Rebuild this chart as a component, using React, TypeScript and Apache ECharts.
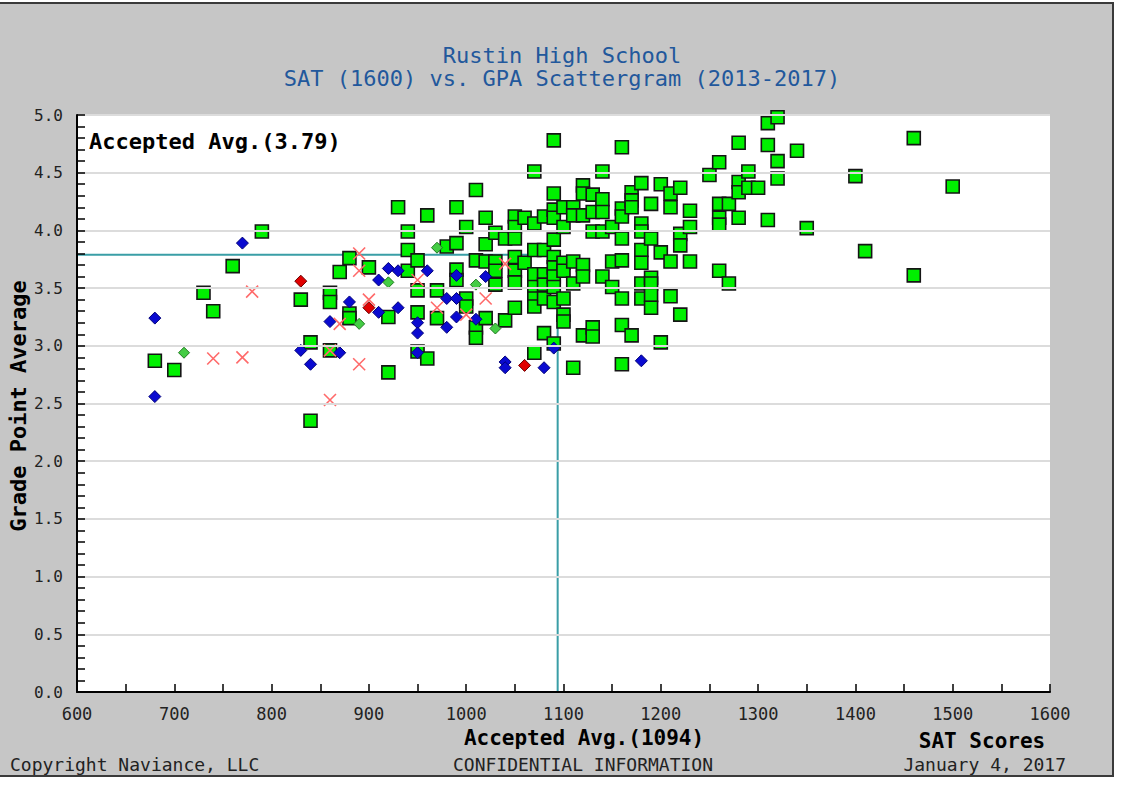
import React, { useEffect, useRef } from "react";
import * as echarts from "echarts";

// SAT (x) vs GPA (y) points
const acceptedPts: number[][] = [
  [680, 2.87], [700, 2.79], [730, 3.46], [740, 3.30], [760, 3.69], [790, 3.99],
  [830, 3.40], [840, 3.03], [840, 2.35],
  [860, 3.46], [860, 3.38], [860, 2.96],
  [870, 3.64], [880, 3.76], [880, 3.28], [880, 3.24],
  [900, 3.68], [920, 3.25], [920, 2.77],
  [930, 4.20], [940, 3.99], [940, 3.83], [940, 3.65],
  [950, 3.74], [950, 3.48], [950, 3.29], [950, 2.95],
  [960, 4.13], [960, 2.89],
  [970, 3.48], [970, 3.24],
  [980, 3.86], [990, 3.89], [990, 4.20], [990, 3.66], [990, 3.57],
  [1000, 4.03], [1000, 3.41], [1000, 3.34],
  [1010, 4.35], [1010, 3.74], [1010, 3.16], [1010, 3.07],
  [1020, 4.11], [1020, 3.88], [1020, 3.73], [1020, 3.24],
  [1030, 3.98], [1030, 3.73], [1030, 3.65], [1030, 3.53],
  [1040, 3.93], [1040, 3.22],
  [1050, 4.12], [1050, 4.03], [1050, 3.93], [1050, 3.77], [1050, 3.65], [1050, 3.55], [1050, 3.33],
  [1060, 4.11], [1060, 3.72],
  [1070, 4.51], [1070, 4.06], [1070, 3.83], [1070, 3.62], [1070, 3.51], [1070, 3.41], [1070, 3.34], [1070, 2.94],
  [1080, 4.12], [1080, 3.83], [1080, 3.62], [1080, 3.53], [1080, 3.41], [1080, 3.11],
  [1090, 4.78], [1090, 4.32], [1090, 4.18], [1090, 4.11], [1090, 3.92], [1090, 3.77], [1090, 3.68],
  [1090, 3.60], [1090, 3.51], [1090, 3.38], [1090, 3.02],
  [1100, 4.20], [1100, 4.03], [1100, 3.72], [1100, 3.65], [1100, 3.41], [1100, 3.27], [1100, 3.21],
  [1110, 4.20], [1110, 4.13], [1110, 3.73], [1110, 3.54], [1110, 2.81],
  [1120, 4.39], [1120, 4.32], [1120, 4.13], [1120, 3.70], [1120, 3.60], [1120, 3.09],
  [1130, 4.31], [1130, 4.16], [1130, 3.99], [1130, 3.16], [1130, 3.08],
  [1140, 4.51], [1140, 4.27], [1140, 4.16], [1140, 3.99], [1140, 3.60],
  [1150, 4.03], [1150, 3.73], [1150, 3.51],
  [1160, 4.72], [1160, 4.19], [1160, 4.12], [1160, 3.93], [1160, 3.74], [1160, 3.41], [1160, 3.18], [1160, 2.84],
  [1170, 4.33], [1170, 4.26], [1170, 4.20], [1170, 3.09],
  [1180, 4.41], [1180, 4.06], [1180, 3.99], [1180, 3.83], [1180, 3.72], [1180, 3.54], [1180, 3.41],
  [1190, 4.23], [1190, 3.93], [1190, 3.59], [1190, 3.54], [1190, 3.44], [1190, 3.33],
  [1200, 4.40], [1200, 3.81], [1200, 3.03],
  [1210, 4.32], [1210, 4.20], [1210, 3.73], [1210, 3.43],
  [1220, 4.37], [1220, 3.97], [1220, 3.87], [1220, 3.27],
  [1230, 4.17], [1230, 4.03], [1230, 3.73],
  [1250, 4.48],
  [1260, 4.59], [1260, 4.23], [1260, 4.11], [1260, 4.05], [1260, 3.65],
  [1270, 4.23], [1270, 3.54],
  [1280, 4.76], [1280, 4.42], [1280, 4.33], [1280, 4.11],
  [1290, 4.51], [1290, 4.37],
  [1300, 4.37],
  [1310, 4.93], [1310, 4.74], [1310, 4.09],
  [1320, 4.98], [1320, 4.60], [1320, 4.45],
  [1340, 4.69], [1350, 4.02],
  [1400, 4.47], [1410, 3.82], [1460, 4.80], [1460, 3.61], [1500, 4.38],
];

const blueDiamondPts: number[][] = [
  [680, 3.24], [680, 2.56], [770, 3.89], [830, 2.96], [840, 2.84], [860, 3.21], [870, 2.94], [880, 3.38],
  [910, 3.57], [910, 3.29], [920, 3.67], [930, 3.65], [930, 3.33], [950, 3.20], [950, 3.11], [950, 2.94],
  [960, 3.65], [980, 3.41], [980, 3.16], [990, 3.61], [990, 3.41], [990, 3.25],
  [1010, 3.23], [1020, 3.60], [1040, 2.86], [1040, 2.81], [1080, 2.81], [1090, 2.98], [1180, 2.87],
];

const redDiamondPts: number[][] = [[830, 3.56], [900, 3.33], [1060, 2.83]];

const greenDiamondPts: number[][] = [
  [710, 2.94], [890, 3.19], [920, 3.55], [970, 3.85], [1010, 3.53], [1030, 3.15],
];

const deniedPts: number[][] = [
  [740, 2.89], [770, 2.90], [780, 3.47], [860, 2.96], [860, 2.53], [870, 3.19],
  [890, 3.80], [890, 3.65], [890, 2.84], [900, 3.40], [950, 3.57], [970, 3.33],
  [1000, 3.27], [1020, 3.41], [1040, 3.71],
];

const avgSat = 1094;
const avgGpa = 3.79;
const satMin = 600;
const satMax = 1600;
const gpaMin = 0;
const gpaMax = 5;

const titleLines = ["Rustin High School", "SAT (1600) vs. GPA Scattergram (2013-2017)"];

const MONO = "'DejaVu Sans Mono', 'Liberation Mono', monospace";

export default function App() {
  const ref = useRef<HTMLDivElement>(null);

  useEffect(() => {
    document.body.style.margin = "0";
    if (!ref.current) return;
    const chart = echarts.init(ref.current, undefined, { renderer: "svg" });

    const option: any = {
      animation: false,
      backgroundColor: "#ffffff",
      grid: {
        left: 77,
        top: 115,
        width: 973,
        height: 577,
        show: true,
        backgroundColor: "#ffffff",
        borderWidth: 0,
      },
      xAxis: {
        type: "value",
        min: satMin,
        max: satMax,
        interval: 100,
        z: 6,
        axisLine: { show: true, onZero: false, lineStyle: { color: "#000", width: 2 } },
        axisTick: { show: true, inside: true, length: 8, lineStyle: { color: "#000", width: 1.5 } },
        minorTick: { show: true, splitNumber: 2, length: 8, lineStyle: { color: "#000", width: 1.5 } },
        splitLine: { show: false },
        axisLabel: {
          color: "#222",
          fontFamily: MONO,
          fontSize: 17,
          margin: 13,
          formatter: (v: number) => String(v),
        },
      },
      yAxis: {
        type: "value",
        min: gpaMin,
        max: gpaMax,
        interval: 0.5,
        z: 6,
        axisLine: { show: true, onZero: false, lineStyle: { color: "#000", width: 2 } },
        axisTick: { show: true, inside: true, length: 8, lineStyle: { color: "#000", width: 1.5 } },
        minorTick: { show: true, splitNumber: 5, length: 8, lineStyle: { color: "#000", width: 1.5 } },
        splitLine: { show: true, lineStyle: { color: "#dcdcdc", width: 2 } },
        axisLabel: {
          color: "#222",
          fontFamily: MONO,
          fontSize: 16,
          margin: 14,
          formatter: (v: number) => v.toFixed(1),
        },
      },
      graphic: [
        {
          type: "rect",
          z: -10,
          silent: true,
          shape: { x: -2, y: 3, width: 1115, height: 773 },
          style: { fill: "#c6c6c6", stroke: "#3a3a3a", lineWidth: 2 },
        },
        {
          type: "text",
          x: 562,
          y: 55,
          style: {
            text: titleLines[0],
            fill: "#22589c",
            font: `22px ${MONO}`,
            textAlign: "center",
            textVerticalAlign: "middle",
          },
        },
        {
          type: "text",
          x: 562,
          y: 78,
          style: {
            text: titleLines[1],
            fill: "#22589c",
            font: `22px ${MONO}`,
            textAlign: "center",
            textVerticalAlign: "middle",
          },
        },
        {
          type: "text",
          x: 89,
          y: 141,
          z: 50,
          style: {
            text: `Accepted Avg.(${avgGpa.toFixed(2)})`,
            fill: "#000",
            font: `bold 22px ${MONO}`,
            textVerticalAlign: "middle",
          },
        },
        {
          type: "text",
          x: 18,
          y: 406,
          rotation: Math.PI / 2,
          style: {
            text: "Grade Point Average",
            fill: "#000",
            font: `bold 22px ${MONO}`,
            textAlign: "center",
            textVerticalAlign: "middle",
          },
        },
        {
          type: "text",
          x: 584,
          y: 738,
          style: {
            text: `Accepted Avg.(${avgSat})`,
            fill: "#000",
            font: `bold 21px ${MONO}`,
            textAlign: "center",
            textVerticalAlign: "middle",
          },
        },
        {
          type: "text",
          x: 982,
          y: 741,
          style: {
            text: "SAT Scores",
            fill: "#000",
            font: `bold 21px ${MONO}`,
            textAlign: "center",
            textVerticalAlign: "middle",
          },
        },
        {
          type: "text",
          x: 10,
          y: 764,
          style: {
            text: "Copyright Naviance, LLC",
            fill: "#222",
            font: `18px ${MONO}`,
            textVerticalAlign: "middle",
          },
        },
        {
          type: "text",
          x: 583,
          y: 764,
          style: {
            text: "CONFIDENTIAL INFORMATION",
            fill: "#222",
            font: `18px ${MONO}`,
            textAlign: "center",
            textVerticalAlign: "middle",
          },
        },
        {
          type: "text",
          x: 1066,
          y: 764,
          style: {
            text: "January 4, 2017",
            fill: "#222",
            font: `18px ${MONO}`,
            textAlign: "right",
            textVerticalAlign: "middle",
          },
        },
      ],
      series: [
        {
          name: "Accepted Avg",
          type: "line",
          data: [[satMin, avgGpa], [avgSat, avgGpa], [avgSat, gpaMin]],
          showSymbol: false,
          symbol: "none",
          lineStyle: { color: "#3a9ea6", width: 2 },
          silent: true,
          z: 2,
        },
        {
          name: "Accepted",
          type: "scatter",
          data: acceptedPts,
          symbol: "rect",
          symbolSize: 13,
          itemStyle: { color: "#00f000", borderColor: "#151515", borderWidth: 1.6, opacity: 1 },
          z: 3,
        },
        {
          name: "Waitlisted",
          type: "scatter",
          data: blueDiamondPts,
          symbol: "diamond",
          symbolSize: 12,
          itemStyle: { color: "#0a0ad0", borderColor: "#00007a", borderWidth: 1, opacity: 1 },
          z: 4,
        },
        {
          name: "Wait-listed, Denied",
          type: "scatter",
          data: redDiamondPts,
          symbol: "diamond",
          symbolSize: 12,
          itemStyle: { color: "#e00000", borderColor: "#6a0000", borderWidth: 1, opacity: 1 },
          z: 4,
        },
        {
          name: "Wait-listed, Accepted",
          type: "scatter",
          data: greenDiamondPts,
          symbol: "diamond",
          symbolSize: 11,
          itemStyle: { color: "#44cc44", borderColor: "#1f7a1f", borderWidth: 1, opacity: 1 },
          z: 4,
        },
        {
          name: "Denied",
          type: "scatter",
          data: deniedPts,
          symbol: "path://M0,0L10,10M10,0L0,10",
          symbolSize: 12,
          itemStyle: { color: "rgba(0,0,0,0)", borderColor: "#ff6a6a", borderWidth: 1.6, opacity: 1 },
          z: 5,
        },
      ],
    };

    chart.setOption(option);
    return () => chart.dispose();
  }, []);

  return (
    <div
      ref={ref}
      style={{ position: "fixed", left: 0, top: 0, width: 1121, height: 785 }}
    />
  );
}
